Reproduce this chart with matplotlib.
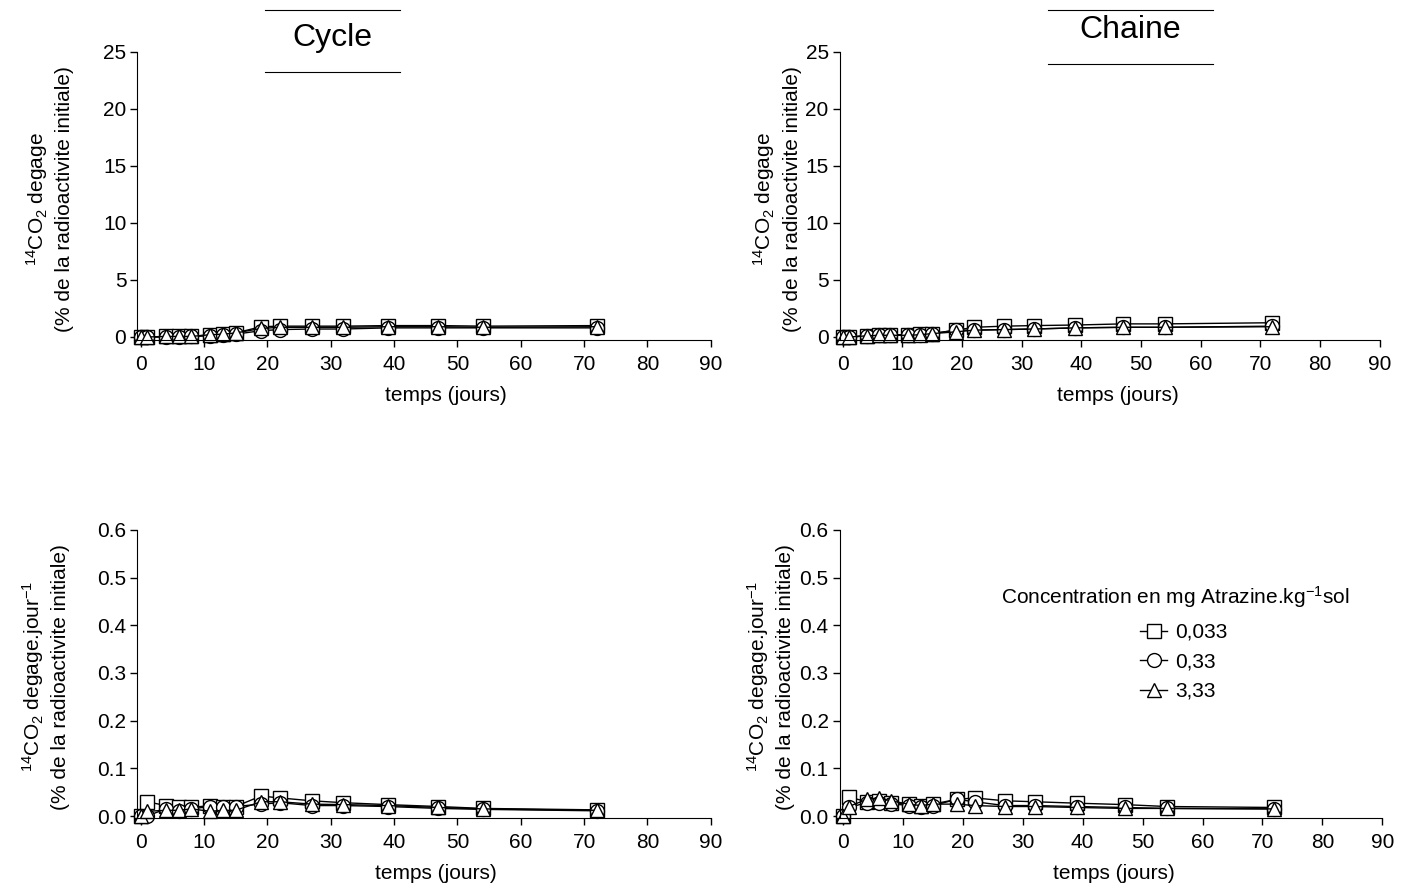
import matplotlib
matplotlib.use("Agg")
import matplotlib.pyplot as plt

plt.rcParams['font.family'] = ['Liberation Sans', 'DejaVu Sans']
plt.rcParams['mathtext.fontset'] = 'custom'
plt.rcParams['mathtext.rm'] = 'Liberation Sans'
plt.rcParams['mathtext.it'] = 'Liberation Sans:italic'
plt.rcParams['font.size'] = 15

# sampling days
jours = [0, 1, 4, 6, 8, 11, 13, 15, 19, 22, 27, 32, 39, 47, 54, 72]
labels = ['0,033', '0,33', '3,33']

# cumulative 14CO2 (% initial radioactivity) - Cycle
cyc_cum_sq = [0, 0, 0.05, 0.05, 0.05, 0.2, 0.25, 0.35, 0.9, 0.95, 0.95, 0.95, 1.0, 1.0, 0.95, 1.0]
cyc_cum_ci = [0, 0, 0.0, 0.0, 0.05, 0.1, 0.15, 0.25, 0.55, 0.65, 0.7, 0.7, 0.8, 0.8, 0.8, 0.8]
cyc_cum_tr = [0, 0, 0.05, 0.05, 0.05, 0.2, 0.25, 0.35, 0.75, 0.85, 0.85, 0.85, 0.9, 0.9, 0.85, 0.9]
# cumulative - Chaine
cha_cum_sq = [0, 0, 0.1, 0.2, 0.2, 0.2, 0.25, 0.3, 0.6, 0.85, 0.95, 1.0, 1.05, 1.15, 1.15, 1.25]
cha_cum_ci = [0, 0, 0.1, 0.15, 0.15, 0.15, 0.2, 0.3, 0.6, 0.6, 0.65, 0.7, 0.8, 0.85, 0.85, 0.95]
cha_cum_tr = [0, 0, 0.1, 0.15, 0.15, 0.15, 0.2, 0.3, 0.45, 0.6, 0.65, 0.7, 0.8, 0.85, 0.85, 0.9]

# daily rate (% per day) - Cycle
cyc_j_sq = [0, 0.03, 0.022, 0.018, 0.018, 0.022, 0.02, 0.02, 0.042, 0.038, 0.032, 0.028, 0.024, 0.02, 0.016, 0.013]
cyc_j_ci = [0, 0.0, 0.015, 0.01, 0.015, 0.02, 0.02, 0.02, 0.025, 0.028, 0.022, 0.022, 0.02, 0.016, 0.014, 0.011]
cyc_j_tr = [0, 0.01, 0.012, 0.012, 0.015, 0.01, 0.012, 0.012, 0.03, 0.03, 0.025, 0.024, 0.022, 0.018, 0.015, 0.012]
# daily rate - Chaine
cha_j_sq = [0, 0.04, 0.03, 0.032, 0.028, 0.025, 0.022, 0.025, 0.035, 0.038, 0.032, 0.03, 0.027, 0.024, 0.02, 0.018]
cha_j_ci = [0, 0.018, 0.028, 0.028, 0.026, 0.022, 0.018, 0.022, 0.035, 0.03, 0.022, 0.022, 0.02, 0.018, 0.016, 0.015]
cha_j_tr = [0, 0.02, 0.035, 0.038, 0.032, 0.025, 0.022, 0.025, 0.025, 0.022, 0.02, 0.02, 0.018, 0.016, 0.016, 0.015]

markers = ['s', 'o', '^']

fig = plt.figure(figsize=(14.02, 8.92), dpi=100)
ax1 = fig.add_axes([0.098, 0.619, 0.409, 0.323])
ax2 = fig.add_axes([0.599, 0.619, 0.385, 0.323])
ax3 = fig.add_axes([0.098, 0.083, 0.409, 0.323])
ax4 = fig.add_axes([0.599, 0.083, 0.387, 0.323])

ylab_cum = '${}^{14}$CO$_2$ degage\n(% de la radioactivite initiale)'
ylab_j = '${}^{14}$CO$_2$ degage.jour$^{-1}$\n(% de la radioactivite initiale)'

yt_cum = [0, 5, 10, 15, 20, 25]
yt_j = [0, .1, .2, .3, .4, .5, .6]

panels = [
    (ax1, [cyc_cum_sq, cyc_cum_ci, cyc_cum_tr], (-0.25, 25), yt_cum, ylab_cum, '%d', -0.154, 0.538),
    (ax2, [cha_cum_sq, cha_cum_ci, cha_cum_tr], (-0.25, 25), yt_cum, ylab_cum, '%d', -0.117, 0.515),
    (ax3, [cyc_j_sq, cyc_j_ci, cyc_j_tr], (-0.004, 0.6), yt_j, ylab_j, '%.1f', -0.161, 0.52),
    (ax4, [cha_j_sq, cha_j_ci, cha_j_tr], (-0.004, 0.6), yt_j, ylab_j, '%.1f', -0.129, 0.505),
]

for ax, series, ylim, yt, ylab, fmt, ylx, xlx in panels:
    for s, m, lab in zip(series, markers, labels):
        ax.plot(jours, s, color='black', lw=1, marker=m, markersize=10,
                markerfacecolor='white', markeredgecolor='black', markeredgewidth=1,
                label=lab, clip_on=False)
    ax.set_xlim(-0.5, 90)
    ax.set_ylim(*ylim)
    ax.set_xticks(range(0, 91, 10))
    ax.set_yticks(yt)
    ax.set_yticklabels([fmt % v for v in yt])
    ax.spines['top'].set_visible(False)
    ax.spines['right'].set_visible(False)
    ax.spines['left'].set_bounds(ylim[0], ylim[1])
    ax.spines['bottom'].set_bounds(-1, 90)
    ax.tick_params(direction='out', length=5, width=1, labelsize=15, pad=3)
    ax.tick_params(axis='x', pad=6)
    ax.set_xlabel('temps (jours)', fontsize=15)
    ax.xaxis.label.set_verticalalignment('center')
    ax.xaxis.set_label_coords(xlx, -0.194)
    ax.set_ylabel(ylab, fontsize=15, linespacing=1.35)
    ax.yaxis.label.set_verticalalignment('center')
    ax.yaxis.set_label_coords(ylx, 0.49)

# legend in the Chaine daily-rate panel
fig.text(1175 / 1402, 1 - 597 / 892, 'Concentration en mg Atrazine.kg$^{-1}$sol',
         fontsize=15, ha='center', va='center')
ax4.legend(loc='upper left', bbox_to_anchor=(1140 / 1402, 1 - 623 / 892),
           bbox_transform=fig.transFigure, frameon=False, fontsize=15,
           handlelength=1.3, handletextpad=0.4, labelspacing=0.5,
           borderpad=0, borderaxespad=0)

# panel titles with rules above and below
for x0, x1, ytop, ybot, txt, ytxt in [(265, 400, 10, 72, 'Cycle', 38),
                                       (1048, 1213, 10, 64, 'Chaine', 30)]:
    fig.text((x0 + x1) / 2 / 1402, 1 - ytxt / 892, txt, fontsize=23,
             ha='center', va='center')
    for yy in (ytop, ybot):
        fig.add_artist(plt.Line2D([x0 / 1402, x1 / 1402], [1 - yy / 892, 1 - yy / 892],
                                  color='black', lw=0.8))

fig.savefig('out.png', dpi=100)
